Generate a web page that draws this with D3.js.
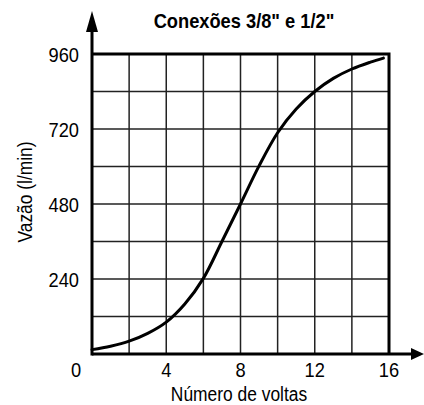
<!DOCTYPE html>
<html>
<head>
<meta charset="utf-8">
<script src="https://cdn.jsdelivr.net/npm/d3@7"></script>
<style>
  body { margin: 0; background: #fff; }
  text { font-family: "Liberation Sans Narrow", "Arial Narrow", "Liberation Sans", sans-serif; fill: #000; }
</style>
</head>
<body>
<svg id="chart" width="424" height="405"></svg>
<script>
// values
const voltas = [0, 1, 2, 3, 4, 5, 6, 7, 8, 9, 10, 11, 12, 13, 14, 15, 15.7];
const vazao = [14, 25, 41, 66, 102, 160, 242, 360, 480, 602, 708, 784, 840, 882, 912, 934, 947];
const xTicks = [4, 8, 12, 16];
const yTicks = [240, 480, 720, 960];
const xGrid = d3.range(0, 17, 2);
const yGrid = d3.range(0, 961, 120);

const svg = d3.select('#chart');
const x = d3.scaleLinear().domain([0, 16]).range([92, 389]);
const y = d3.scaleLinear().domain([0, 960]).range([354, 54]);
const squeeze = 0.87; // no narrow font installed, so squash horizontally

function label(px, py, txt, size, opts) {
    opts = opts || {};
    const rot = opts.rotate ? ' rotate(' + opts.rotate + ')' : '';
    svg.append('text')
        .attr('transform', 'translate(' + px + ',' + py + ')' + rot + ' scale(' + squeeze + ',1)')
        .attr('text-anchor', opts.anchor || 'middle')
        .attr('font-size', size)
        .attr('font-weight', opts.weight || 'normal')
        .text(txt);
}

// grid
svg.append('g').selectAll('line')
    .data(xGrid.slice(1, -1))
    .enter().append('line')
    .attr('x1', d => x(d)).attr('x2', d => x(d))
    .attr('y1', y(0)).attr('y2', y(960))
    .attr('stroke', '#222').attr('stroke-width', 1.5);
svg.append('g').selectAll('line')
    .data(yGrid.slice(1, -1))
    .enter().append('line')
    .attr('x1', x(0)).attr('x2', x(16))
    .attr('y1', d => y(d)).attr('y2', d => y(d))
    .attr('stroke', '#222').attr('stroke-width', 1.5);

// frame (top + right)
svg.append('path')
    .attr('d', `M${x(0)},${y(960)}H${x(16)}V${y(0)}`)
    .attr('fill', 'none').attr('stroke', '#000').attr('stroke-width', 3);

// axes with arrows
svg.append('line')
    .attr('x1', x(0)).attr('x2', 414)
    .attr('y1', y(0)).attr('y2', y(0))
    .attr('stroke', '#000').attr('stroke-width', 3);
svg.append('path')
    .attr('d', `M424,${y(0)}L411,${y(0) - 6}L411,${y(0) + 6}Z`)
    .attr('fill', '#000');
svg.append('line')
    .attr('x1', x(0)).attr('x2', x(0))
    .attr('y1', y(0) + 1.5).attr('y2', 22)
    .attr('stroke', '#000').attr('stroke-width', 3);
svg.append('path')
    .attr('d', `M${x(0)},11L${x(0) - 6},32L${x(0) + 6},32Z`)
    .attr('fill', '#000');

// curve
const line = d3.line()
    .x((d, i) => x(voltas[i]))
    .y(d => y(d))
    .curve(d3.curveCatmullRom);
svg.append('path')
    .datum(vazao)
    .attr('d', line)
    .attr('fill', 'none').attr('stroke', '#000').attr('stroke-width', 3)
    .attr('stroke-linecap', 'round');

// tick labels
yTicks.forEach(d => label(79, y(d) + 7.5, d, 21, {anchor: 'end'}));
xTicks.forEach(d => label(x(d), 377, d, 21));
label(76, 377, '0', 21);

// titles
label(244, 28, 'Conexões 3/8" e 1/2"', 21, {weight: 'bold'});
label(239, 401, 'Número de voltas', 20);
label(32, 192, 'Vazão (l/min)', 20, {rotate: -90});
</script>
</body>
</html>
